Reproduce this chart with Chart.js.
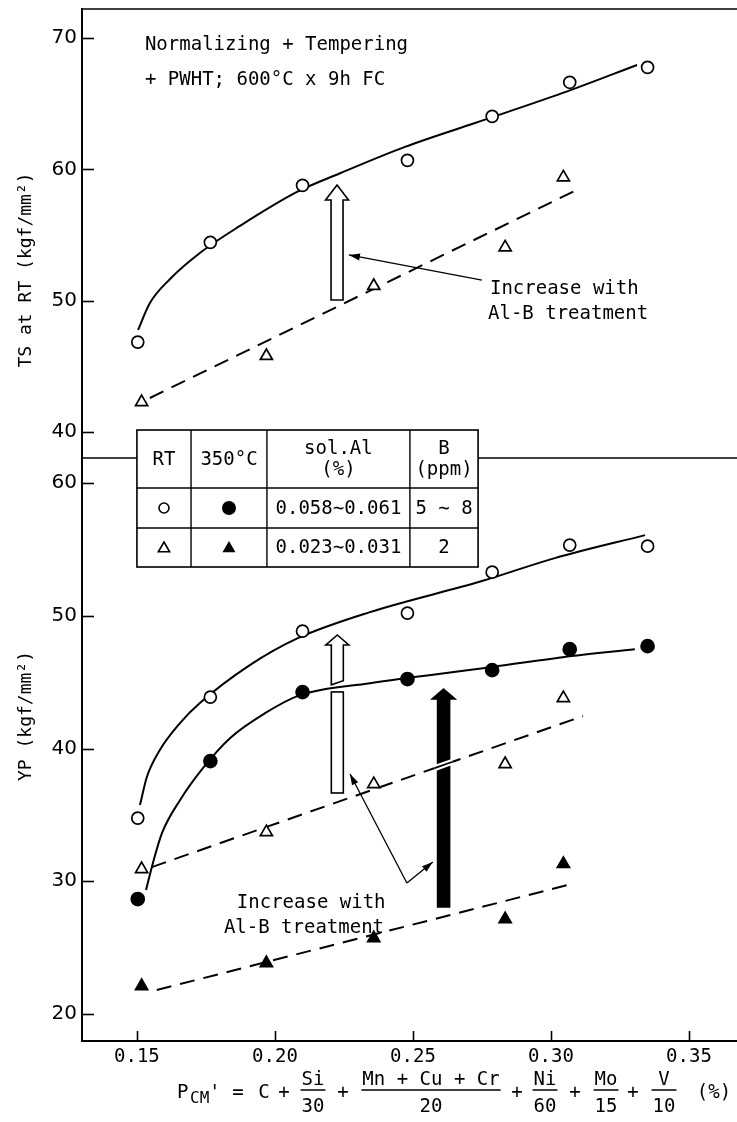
<!DOCTYPE html>
<html><head><meta charset="utf-8">
<script src="https://cdn.jsdelivr.net/npm/chart.js@4/dist/chart.umd.min.js"></script>
<style>html,body{margin:0;padding:0;background:#fff}canvas{display:block}</style>
</head><body>
<canvas id="c" width="737" height="1122"></canvas>
<script>
// ---------------- data ----------------
const xTicks = [0.15, 0.20, 0.25, 0.30, 0.35];
const tsTicks = [40, 50, 60, 70];
const ypTicks = [20, 30, 40, 50, 60];

// P_CM' of the steels
const alB_x = [0.1503, 0.1766, 0.2100, 0.2480, 0.2787, 0.3068, 0.3350];   // Al-B treated (circles)
const low_x = [0.1517, 0.1969, 0.2358, 0.2834, 0.3045];                   // low Al, B (triangles)

// TS at RT
const tsRT_alB = [46.85, 54.44, 58.78, 60.69, 64.04, 66.63, 67.77];
const tsRT_low = [42.28, 45.79, 51.12, 54.06, 59.39];
// YP
const ypRT_alB = [34.76, 43.87, 48.84, 50.20, 53.28, 55.32, 55.24];
const yp350_alB = [28.66, 39.05, 44.25, 45.23, 45.90, 47.48, 47.71];
const ypRT_low = [30.92, 33.70, 37.32, 38.83, 43.80];
const yp350_low = [22.11, 23.84, 25.72, 27.15, 31.30];

// hand-drawn trend curves
const tsCurve_x = [0.1504, 0.1547, 0.1620, 0.1728, 0.1873, 0.2080, 0.2236, 0.2471, 0.2725, 0.3043, 0.3312];
const tsCurve_y = [47.77, 49.82, 51.65, 53.63, 55.69, 58.28, 59.70, 61.71, 63.53, 65.82, 67.95];
const ypRTCurve_x = [0.1511, 0.1536, 0.1583, 0.1656, 0.1728, 0.1909, 0.2083, 0.2344, 0.2750, 0.3014, 0.3341];
const ypRTCurve_y = [35.74, 37.85, 39.88, 41.91, 43.42, 46.28, 48.31, 50.27, 52.61, 54.34, 56.07];
const yp350Curve_x = [0.1533, 0.1558, 0.1591, 0.1656, 0.1739, 0.1837, 0.1964, 0.2091, 0.2344, 0.2754, 0.3043, 0.3304];
const yp350Curve_y = [29.34, 31.38, 33.64, 36.11, 38.52, 40.78, 42.66, 44.02, 44.92, 46.05, 46.88, 47.48];
// dashed straight fits for the low-Al steels
const tsLowFit_x = [0.1547, 0.3098];
const tsLowFit_y = [42.59, 58.48];
const ypRTLowFit_x = [0.1554, 0.3116];
const ypRTLowFit_y = [31.07, 42.44];
const yp350LowFit_x = [0.1572, 0.3087];
const yp350LowFit_y = [21.81, 29.86];

// texts
const tsTitle = 'TS at RT (kgf/mm²)';
const ypTitle = 'YP (kgf/mm²)';
const noteLines = ['Normalizing + Tempering', '+ PWHT; 600°C x 9h FC'];
const incLines = ['Increase with', 'Al-B treatment'];
const tableHead = [['RT'], ['350°C'], ['sol.Al', '(%)'], ['B', '(ppm)']];
const tableRows = [['0.058∼0.061', '5 ∼ 8'], ['0.023∼0.031', '2']];

// ---------------- helpers ----------------
const pts = (xs, ys) => xs.map((x, i) => ({x, y: ys[i]}));
const MONO = '"DejaVu Sans Mono", monospace';

function curve(xs, ys, axis, dashed) {
  return {
    data: pts(xs, ys), yAxisID: axis, showLine: true, pointRadius: 0,
    borderColor: '#000', borderWidth: 2, borderDash: dashed ? [15, 9] : [],
    cubicInterpolationMode: dashed ? 'default' : 'monotone', tension: 0, order: 2
  };
}
function marks(xs, ys, axis, style, filled) {
  const tri = style === 'triangle';
  return {
    data: pts(xs, ys), yAxisID: axis, showLine: false,
    pointStyle: style, pointRadius: tri ? 7 : (filled ? 6.5 : 6),
    pointBorderWidth: 1.7, pointBorderColor: '#000',
    pointBackgroundColor: filled ? '#000' : '#fff', order: 1
  };
}

const datasets = [
  curve(tsCurve_x, tsCurve_y, 'yTS', false),
  curve(tsLowFit_x, tsLowFit_y, 'yTS', true),
  curve(ypRTCurve_x, ypRTCurve_y, 'yYP', false),
  curve(yp350Curve_x, yp350Curve_y, 'yYP', false),
  curve(ypRTLowFit_x, ypRTLowFit_y, 'yYP', true),
  curve(yp350LowFit_x, yp350LowFit_y, 'yYP', true),
  marks(alB_x, tsRT_alB, 'yTS', 'circle', false),
  marks(low_x, tsRT_low, 'yTS', 'triangle', false),
  marks(alB_x, ypRT_alB, 'yYP', 'circle', false),
  marks(alB_x, yp350_alB, 'yYP', 'circle', true),
  marks(low_x, ypRT_low, 'yYP', 'triangle', false),
  marks(low_x, yp350_low, 'yYP', 'triangle', true)
];

function seg(ctx, x1, y1, x2, y2, lw) {
  ctx.lineWidth = lw || 1.6;
  ctx.beginPath(); ctx.moveTo(x1, y1); ctx.lineTo(x2, y2); ctx.stroke();
}
function pointer(ctx, x1, y1, x2, y2) {
  seg(ctx, x1, y1, x2, y2, 1.3);
  const a = Math.atan2(y2 - y1, x2 - x1), L = 11, H = 3.5;
  ctx.beginPath();
  ctx.moveTo(x2, y2);
  ctx.lineTo(x2 - L * Math.cos(a) + H * Math.sin(a), y2 - L * Math.sin(a) - H * Math.cos(a));
  ctx.lineTo(x2 - L * Math.cos(a) - H * Math.sin(a), y2 - L * Math.sin(a) + H * Math.cos(a));
  ctx.closePath(); ctx.fill();
}
function bigArrow(ctx, xc, yTip, yBase, yBot, fill, yBotR) {
  const hh = 11.5, sh = 6;
  ctx.beginPath();
  ctx.moveTo(xc, yTip);
  ctx.lineTo(xc + hh, yBase); ctx.lineTo(xc + sh, yBase);
  ctx.lineTo(xc + sh, yBotR === undefined ? yBot : yBotR);
  ctx.lineTo(xc - sh, yBot);
  ctx.lineTo(xc - sh, yBase); ctx.lineTo(xc - hh, yBase);
  ctx.closePath();
  ctx.fillStyle = fill; ctx.fill();
  ctx.lineWidth = 1.6; ctx.strokeStyle = '#000'; ctx.stroke();
  ctx.fillStyle = '#000';
}

const decor = {
  id: 'decor',
  afterDraw(chart) {
    const {ctx, chartArea: ca} = chart;
    const xs = chart.scales.x, yt = chart.scales.yTS, yb = chart.scales.yYP;
    const X = v => xs.getPixelForValue(v);
    const YT = v => yt.getPixelForValue(v);
    const YB = v => yb.getPixelForValue(v);
    ctx.save();
    ctx.strokeStyle = '#000'; ctx.fillStyle = '#000';

    // frame top and panel separator
    seg(ctx, ca.left, ca.top, ca.right, ca.top, 1.6);
    seg(ctx, ca.left, yt.bottom, ca.right, yt.bottom, 1.6);
    // inward tick marks
    for (const s of [yt, yb]) for (const t of s.ticks) {
      const p = Math.round(s.getPixelForValue(t.value)) + 0.5;
      seg(ctx, ca.left, p, ca.left + 12, p, 1.6);
    }
    for (const t of xs.ticks) {
      const p = Math.round(X(t.value)) + 0.5;
      seg(ctx, p, ca.bottom, p, ca.bottom - 10, 1.6);
    }

    // axis titles (rotated)
    ctx.font = '18px ' + MONO;
    ctx.textAlign = 'center'; ctx.textBaseline = 'middle';
    [[tsTitle, YT(52.34)], [ypTitle, YB(42.45)]].forEach(([t, y]) => {
      ctx.save(); ctx.translate(26, y); ctx.rotate(-Math.PI / 2); ctx.fillText(t, 0, 0); ctx.restore();
    });

    // notes
    ctx.font = '19px ' + MONO; ctx.textAlign = 'left'; ctx.textBaseline = 'alphabetic';
    ctx.fillText(noteLines[0], X(0.1529), YT(69.09));
    ctx.fillText(noteLines[1], X(0.1529), YT(66.42));
    ctx.fillText(incLines[0], X(0.2779), YT(50.51));
    ctx.fillText(incLines[1], X(0.2772), YT(48.60));
    ctx.fillText(incLines[0], X(0.1862), YB(27.98));
    ctx.fillText(incLines[1], X(0.1815), YB(26.10));

    // arrows: top hollow
    const ax1 = X(0.2225);
    bigArrow(ctx, ax1, YT(58.81), YT(57.67), YT(50.05), '#fff');
    pointer(ctx, X(0.2750), YT(51.57), X(0.2268), YT(53.48));
    // bottom hollow (split by the 350°C curve)
    const ax2 = X(0.2226);
    bigArrow(ctx, ax2, YB(48.55), YB(47.80), YB(44.80), '#fff', YB(45.10));
    ctx.lineWidth = 1.6;
    ctx.fillStyle = '#fff';
    ctx.fillRect(ax2 - 6, YB(44.26), 12, YB(36.65) - YB(44.26));
    ctx.strokeRect(ax2 - 6, YB(44.26), 12, YB(36.65) - YB(44.26));
    ctx.fillStyle = '#000';
    // bottom black arrow
    const ax3 = X(0.2611);
    bigArrow(ctx, ax3, YB(44.48), YB(43.73), YB(28.06), '#000');
    // break where the dashed fit crosses it
    const fx0 = X(ypRTLowFit_x[0]), fy0 = YB(ypRTLowFit_y[0]);
    const fx1 = X(ypRTLowFit_x[1]), fy1 = YB(ypRTLowFit_y[1]);
    const sl = (fy1 - fy0) / (fx1 - fx0);
    const yc = fy0 + sl * (ax3 - fx0);
    ctx.strokeStyle = '#fff';
    seg(ctx, ax3 - 9, yc - 9 * sl, ax3 + 9, yc + 9 * sl, 6);
    ctx.strokeStyle = '#000';
    seg(ctx, ax3 - 9, yc - 9 * sl, ax3 + 9, yc + 9 * sl, 1.8);
    // pointer lines bottom
    const vx = X(0.2478), vy = YB(29.87);
    pointer(ctx, vx, vy, X(0.2272), YB(38.08));
    pointer(ctx, vx, vy, X(0.2572), YB(31.45));

    // legend table
    const cols = [X(0.15), X(0.1696), X(0.1971), X(0.2489), X(0.2736)];
    const rows = [YT(40.15), YB(59.62), YB(56.61), YB(53.67)];
    ctx.fillStyle = '#fff';
    ctx.fillRect(cols[0], rows[0], cols[4] - cols[0], rows[3] - rows[0]);
    ctx.strokeStyle = '#000'; ctx.lineWidth = 1.6;
    ctx.strokeRect(cols[0], rows[0], cols[4] - cols[0], rows[3] - rows[0]);
    cols.slice(1, 4).forEach(c => seg(ctx, c, rows[0], c, rows[3], 1.4));
    rows.slice(1, 3).forEach(r => seg(ctx, cols[0], r, cols[4], r, 1.4));
    ctx.fillStyle = '#000';
    ctx.font = '19px ' + MONO; ctx.textAlign = 'center'; ctx.textBaseline = 'middle';
    const cx = i => (cols[i] + cols[i + 1]) / 2;
    const hMid = (rows[0] + rows[1]) / 2;
    tableHead.forEach((h, i) => {
      if (h.length === 1) ctx.fillText(h[0], cx(i), hMid + 1);
      else { ctx.fillText(h[0], cx(i), hMid - 10); ctx.fillText(h[1], cx(i), hMid + 11); }
    });
    tableRows.forEach((r, j) => {
      const ym = (rows[j + 1] + rows[j + 2]) / 2 + 1;
      ctx.fillText(r[0], cx(2), ym);
      ctx.fillText(r[1], cx(3), ym);
    });
    // symbols
    const r1 = (rows[1] + rows[2]) / 2, r2 = (rows[2] + rows[3]) / 2;
    ctx.lineWidth = 1.6;
    ctx.beginPath(); ctx.arc(cx(0), r1, 5, 0, Math.PI * 2); ctx.stroke();
    ctx.beginPath(); ctx.arc(cx(1), r1, 7, 0, Math.PI * 2); ctx.fill();
    const tri = (x, y, r, f) => {
      ctx.beginPath(); ctx.moveTo(x, y - r); ctx.lineTo(x + r * 0.87, y + r * 0.5); ctx.lineTo(x - r * 0.87, y + r * 0.5); ctx.closePath();
      f ? ctx.fill() : ctx.stroke();
    };
    tri(cx(0), r2 + 1, 6.5, false);
    tri(cx(1), r2 + 1, 7.5, true);

    // x axis formula
    const base = 1098, nb = 1085, bar = 1090, db = 1112;
    ctx.textBaseline = 'alphabetic';
    ctx.font = '19px ' + MONO;
    ctx.textAlign = 'left';
    ctx.fillText('P', 177, base);
    ctx.font = '16px ' + MONO; ctx.fillText('CM', 190, base + 5);
    ctx.font = '19px ' + MONO; ctx.fillText("'", 209, base);
    ctx.textAlign = 'center';
    const put = (t, x) => ctx.fillText(t, x, base);
    const frac = (n, d, x) => {
      ctx.fillText(n, x, nb); ctx.fillText(d, x, db);
      const w = Math.max(ctx.measureText(n).width, ctx.measureText(d).width);
      seg(ctx, x - w / 2 - 1, bar, x + w / 2 + 1, bar, 1.5);
    };
    put('=', 238); put('C', 264); put('+', 284);
    frac('Si', '30', 313); put('+', 343);
    frac('Mn + Cu + Cr', '20', 431); put('+', 517);
    frac('Ni', '60', 545); put('+', 575);
    frac('Mo', '15', 606); put('+', 633);
    frac('V', '10', 664);
    put('(%)', 714);
    ctx.restore();
  }
};

const yCommon = {
  type: 'linear', position: 'left', stack: 'panels',
  grid: {display: false, drawTicks: false},
  border: {display: true, color: '#000', width: 2},
  ticks: {font: {family: 'DejaVu Sans', size: 20}, color: '#000', padding: 5},
  afterFit: s => { s.width = 82; s.paddingTop = 0; s.paddingBottom = 0; }
};

new Chart(document.getElementById('c'), {
  type: 'scatter',
  data: {datasets},
  options: {
    responsive: false, animation: false, devicePixelRatio: 1,
    layout: {autoPadding: false, padding: {top: 9, right: 0, left: 0, bottom: 0}},
    plugins: {legend: {display: false}, tooltip: {enabled: false}},
    scales: {
      x: {
        type: 'linear', min: 0.1301, max: 0.3674,
        grid: {display: false, drawTicks: false},
        border: {display: true, color: '#000', width: 2},
        ticks: {font: {family: 'DejaVu Sans Mono', size: 19}, color: '#000', padding: 5,
                callback: v => Number(v).toFixed(2)},
        afterBuildTicks: s => { s.ticks = xTicks.map(v => ({value: v})); },
        afterFit: s => { s.height = 81; s.paddingLeft = 0; s.paddingRight = 0; }
      },
      yTS: Object.assign({}, yCommon, {
        min: 38.02, max: 72.21, stackWeight: 449, weight: 2,
        afterBuildTicks: s => { s.ticks = tsTicks.map(v => ({value: v})); }
      }),
      yYP: Object.assign({}, yCommon, {
        min: 17.97, max: 61.88, stackWeight: 583, weight: 1,
        afterBuildTicks: s => { s.ticks = ypTicks.map(v => ({value: v})); }
      })
    }
  },
  plugins: [decor]
});
</script>
</body></html>
